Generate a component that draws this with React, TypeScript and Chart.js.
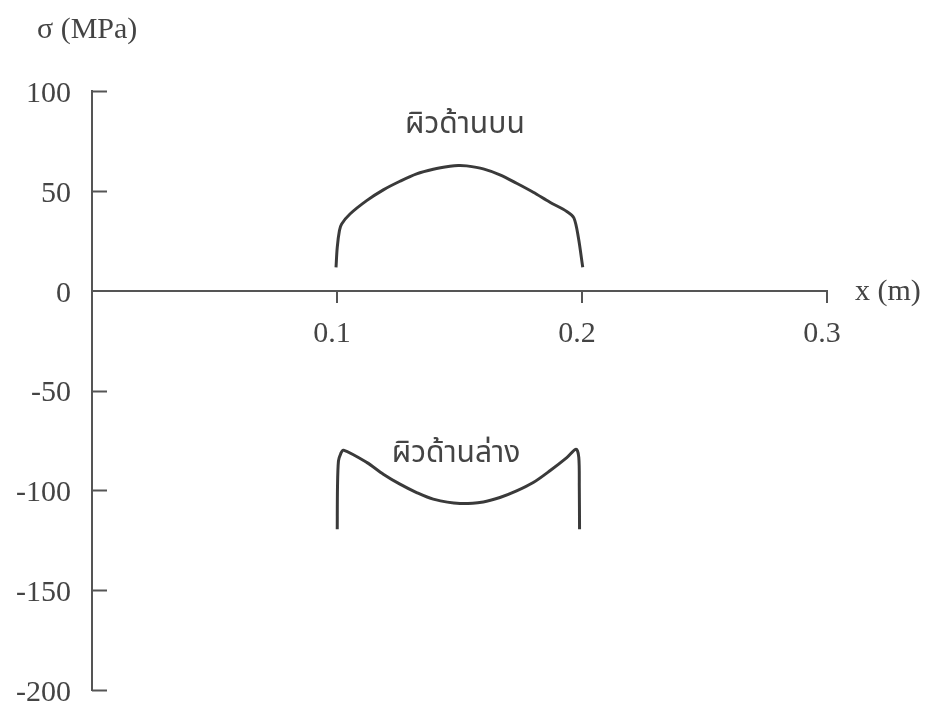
import React, { useEffect, useRef } from "react";
import { Chart, registerables } from "chart.js";

Chart.register(...registerables);

// Stress along the beam, top and bottom surface (x in m, sigma in MPa)
const topX = [0.0996, 0.1001, 0.101, 0.1019, 0.1053, 0.1121, 0.1189, 0.1257, 0.1325, 0.1393, 0.1461, 0.1495, 0.1529, 0.1597, 0.1665, 0.1733, 0.1801, 0.1869, 0.1938, 0.1967, 0.1985, 0.2003];
const topSigma = [11.7, 21.7, 30.1, 33.4, 38.4, 45.1, 50.5, 54.8, 58.5, 60.8, 62.3, 62.7, 62.5, 61.0, 58.0, 53.8, 49.3, 44.3, 39.7, 36.4, 26.7, 11.7];

const bottomX = [0.1001, 0.1002, 0.1006, 0.1015, 0.1026, 0.1121, 0.1189, 0.1257, 0.1325, 0.1393, 0.1502, 0.1597, 0.1665, 0.1733, 0.1801, 0.1869, 0.1938, 0.1976, 0.1987, 0.1989, 0.199];
const bottomSigma = [-119.5, -98.6, -85.2, -81.7, -79.9, -86.0, -91.9, -96.9, -101.1, -104.4, -106.6, -105.8, -103.6, -100.3, -96.1, -90.2, -83.6, -79.4, -83.6, -98.6, -119.5];

const curveNames = ["ผิวด้านบน", "ผิวด้านล่าง"];
const curveLabelX = [0.1522, 0.1486];
const curveLabelY = [82, -83];

const xTicks = [0, 0.1, 0.2, 0.3];
const yTicks = [-200, -150, -100, -50, 0, 50, 100];

const yTitle = "σ (MPa)";
const xTitle = "x (m)";

const INK = "#3a3a3a";
const AXIS = "#555555";
const TEXT = "#444444";
const SERIF = "'Liberation Serif', 'Times New Roman', serif";
const THAI = "'Noto Sans Thai', 'Noto Sans Thai Looped', Loma, Garuda, Tahoma, 'DejaVu Sans', sans-serif";

const toPoints = (xs: number[], ys: number[]) => xs.map((x, i) => ({ x, y: ys[i] }));

const decorations = {
  id: "decorations",
  afterDraw(chart: any) {
    const { ctx, chartArea, scales } = chart;
    const xs = scales.x;
    const ys = scales.y;
    ctx.save();
    // y-axis tick marks point into the plot
    ctx.strokeStyle = AXIS;
    ctx.lineWidth = 2;
    yTicks.forEach((v) => {
      if (v === 0) return;
      const py = Math.round(ys.getPixelForValue(v)) + 0.5;
      ctx.beginPath();
      ctx.moveTo(chartArea.left, py);
      ctx.lineTo(chartArea.left + 15, py);
      ctx.stroke();
    });
    // curve names
    ctx.fillStyle = TEXT;
    ctx.font = `30px ${THAI}`;
    ctx.textAlign = "center";
    ctx.textBaseline = "middle";
    curveNames.forEach((name, i) => {
      ctx.fillText(name, xs.getPixelForValue(curveLabelX[i]), ys.getPixelForValue(curveLabelY[i]));
    });
    // axis titles
    ctx.font = `30px ${SERIF}`;
    ctx.textAlign = "left";
    ctx.fillText(yTitle, chartArea.left - 55, chartArea.top - 61);
    ctx.fillText(xTitle, chartArea.right + 28, ys.getPixelForValue(0) + 1);
    ctx.restore();
  },
};

export default function App() {
  const canvasRef = useRef<HTMLCanvasElement | null>(null);

  useEffect(() => {
    const canvas = canvasRef.current;
    if (!canvas) return;
    const chart = new Chart(canvas, {
      type: "line",
      data: {
        datasets: [
          {
            label: curveNames[0],
            data: toPoints(topX, topSigma),
            borderColor: INK,
            borderWidth: 3,
            pointRadius: 0,
            tension: 0.3,
            fill: false,
          },
          {
            label: curveNames[1],
            data: toPoints(bottomX, bottomSigma),
            borderColor: INK,
            borderWidth: 3,
            pointRadius: 0,
            tension: 0.3,
            fill: false,
          },
        ],
      },
      options: {
        animation: false,
        responsive: false,
        devicePixelRatio: 1,
        layout: { padding: { top: 91, left: 0, right: 102, bottom: 13 } },
        plugins: { legend: { display: false }, tooltip: { enabled: false } },
        scales: {
          x: {
            type: "linear",
            position: { y: 0 } as any,
            min: 0,
            max: 0.3,
            afterBuildTicks: (s: any) => {
              s.ticks = xTicks.map((v) => ({ value: v }));
            },
            afterFit: (s: any) => {
              s.paddingLeft = 0;
              s.paddingRight = 0;
              s.paddingTop = 0;
              s.paddingBottom = 0;
            },
            border: { display: true, color: AXIS, width: 2 },
            grid: { drawOnChartArea: false, drawTicks: true, tickLength: 11, color: AXIS, lineWidth: 2 },
            ticks: {
              color: TEXT,
              font: { family: SERIF, size: 30 },
              padding: 14,
              labelOffset: -5,
              maxRotation: 0,
              autoSkip: false,
              callback: (v: any) => (v === 0 ? "" : Number(v).toFixed(1)),
            },
          },
          y: {
            type: "linear",
            position: "left",
            min: -200,
            max: 100,
            afterBuildTicks: (s: any) => {
              s.ticks = yTicks.map((v) => ({ value: v }));
            },
            afterFit: (s: any) => {
              s.width = 92;
              s.paddingTop = 0;
              s.paddingBottom = 0;
            },
            border: { display: true, color: AXIS, width: 2 },
            grid: { drawOnChartArea: false, drawTicks: false },
            ticks: {
              color: TEXT,
              font: { family: SERIF, size: 30 },
              padding: 21,
              labelOffset: 3,
              autoSkip: false,
              callback: (v: any) => String(v),
            },
          },
        },
      },
      plugins: [decorations],
    });
    return () => chart.destroy();
  }, []);

  return (
    <div style={{ position: "fixed", left: 0, top: 0, width: 929, height: 703, background: "#ffffff", overflow: "hidden" }}>
      <canvas ref={canvasRef} width={929} height={703} />
    </div>
  );
}
